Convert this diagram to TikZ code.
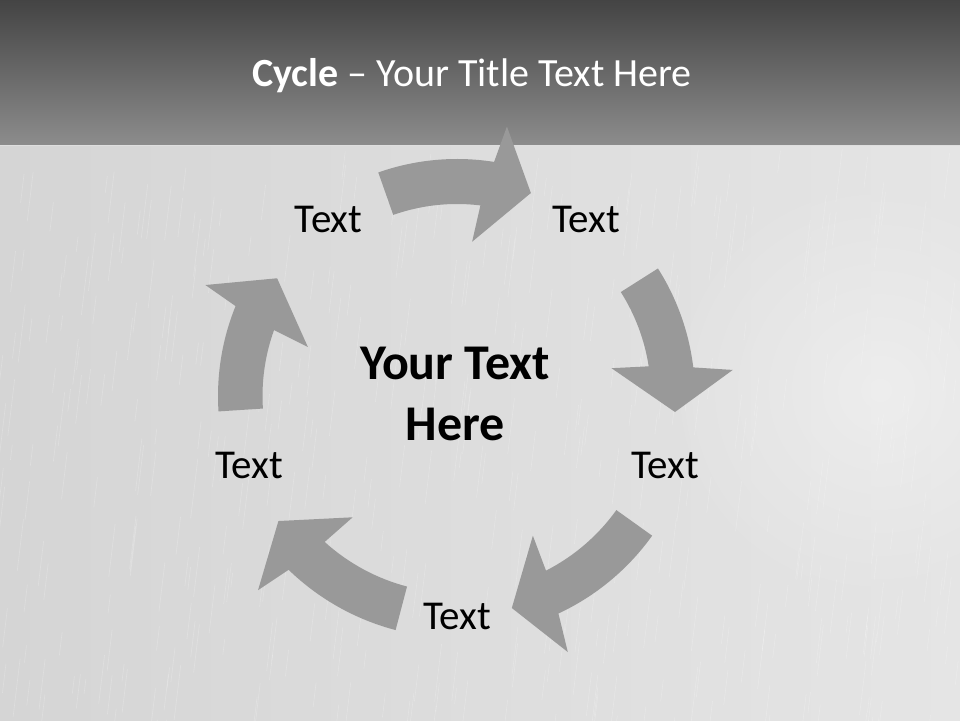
\documentclass[tikz,border=0pt]{standalone}
\usepackage{fontspec}
\setmainfont{Carlito}
\usetikzlibrary{calc}
\definecolor{arrowgray}{HTML}{999999}
\definecolor{bgleft}{HTML}{D5D5D5}
\definecolor{bgright}{HTML}{E5E5E5}
\definecolor{bartop}{HTML}{444444}
\definecolor{barbottom}{HTML}{8C8C8C}
\tikzset{
  cyclearrow/.style={fill=arrowgray, draw=none},
  steplabel/.style={font=\fontsize{41}{50}\selectfont, text=black, inner sep=0pt, anchor=base},
  centerlabel/.style={font=\bfseries\fontsize{50}{61}\selectfont, text=black, inner sep=0pt, align=center},
  titlelabel/.style={font=\fontsize{40}{48}\selectfont, text=white, inner sep=0pt, anchor=base},
  streak/.style={white, line width=0.6pt, opacity=0.22}
}
\begin{document}
\begin{tikzpicture}[x=1pt,y=1pt]
\useasboundingbox (0,0) rectangle (960,720);
% background
\shade[left color=bgleft, right color=bgright] (0,0) rectangle (960,575);
\shade[inner color=white, outer color=bgright, opacity=0.35] (880,330) circle[radius=200];
\pgfmathsetseed{4242}
\foreach \i in {1,...,450}{
  \pgfmathsetmacro{\sx}{960*rnd}
  \pgfmathsetmacro{\sy}{575*rnd}
  \pgfmathsetmacro{\sl}{15+45*rnd}
  \draw[streak] (\sx,\sy) -- ++(-0.12*\sl,-\sl);
}
% title bar
\shade[top color=bartop, bottom color=barbottom] (0,575) rectangle (960,720);
\draw[white!75!gray, line width=0.8pt] (0,575) -- (960,575);
\coordinate (c) at (457,324);
% arrows
\fill[cyclearrow] ($(c)+(109.4:237)$) arc[start angle=109.4, end angle=81.0, radius=237]
  -- ($(c)+(79.5:274)$) -- ($(c)+(70:216)$) -- ($(c)+(84.4:155)$) -- ($(c)+(83.0:192)$)
  arc[start angle=83.0, end angle=109.4, radius=192] -- cycle;
\fill[cyclearrow] ($(c)+(32.4:238)$) arc[start angle=32.4, end angle=6.9, radius=238]
  -- ($(c)+(5.4:277)$) -- ($(c)+(-4.2:218.6)$) -- ($(c)+(10.2:157)$) -- ($(c)+(8.8:194)$)
  arc[start angle=8.8, end angle=32.4, radius=194] -- cycle;
\fill[cyclearrow] ($(c)+(-35.6:240)$) arc[start angle=-35.6, end angle=-65.0, radius=240]
  -- ($(c)+(-66.6:279)$) -- ($(c)+(-75.5:219)$) -- ($(c)+(-61.5:159)$) -- ($(c)+(-63.0:196)$)
  arc[start angle=-63.0, end angle=-35.6, radius=196] -- cycle;
\fill[cyclearrow] ($(c)+(255.3:242)$) arc[start angle=255.3, end angle=225.9, radius=242]
  -- ($(c)+(224.3:278)$) -- ($(c)+(215:218)$) -- ($(c)+(229.3:160)$) -- ($(c)+(227.8:197)$)
  arc[start angle=227.8, end angle=255.3, radius=197] -- cycle;
\fill[cyclearrow] ($(c)+(183.7:239)$) arc[start angle=183.7, end angle=157.9, radius=239]
  -- ($(c)+(156.2:275)$) -- ($(c)+(146.8:215)$) -- ($(c)+(161.8:157)$) -- ($(c)+(160.2:194.5)$)
  arc[start angle=160.2, end angle=183.7, radius=194.5] -- cycle;
% labels
\node[titlelabel] (title) at (472,633) {\textbf{Cycle} – Your Title Text Here};
\node[steplabel] (t1) at (328.5,487) {Text};
\node[steplabel] (t2) at (586,487) {Text};
\node[steplabel] (t3) at (665,241) {Text};
\node[steplabel] (t4) at (457,91) {Text};
\node[steplabel] (t5) at (249,241) {Text};
\node[centerlabel] (center) at (455,326) {Your Text\\Here};
\end{tikzpicture}
\end{document}
